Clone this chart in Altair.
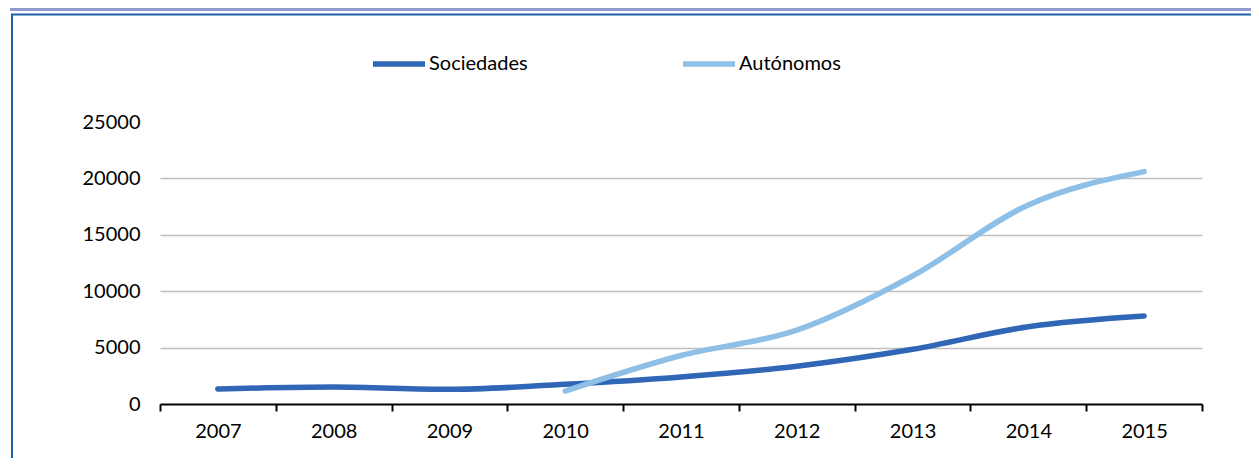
import altair as alt
import pandas as pd

years = ["2007", "2008", "2009", "2010", "2011", "2012", "2013", "2014", "2015"]
sociedades = [1330, 1500, 1300, 1750, 2400, 3350, 4850, 6850, 7800]
autonomos = [None, None, None, 1150, 4300, 6550, 11350, 17650, 20600]
series = ["Sociedades", "Autónomos"]
colors = ["#2F66B5", "#8DBFE7"]
y_ticks = [0, 5000, 10000, 15000, 20000, 25000]

rows = []
for name, vals in zip(series, [sociedades, autonomos]):
    for yr, v in zip(years, vals):
        if v is not None:
            rows.append({"Año": yr, "Serie": name, "Valor": v})
df = pd.DataFrame(rows)

FONT = "Lato"
W, H = 1042, 282
PL, PT = 152, 114
PR, PB = 49, 54

lines = alt.Chart(df).mark_line(strokeWidth=5.5, strokeCap="round", strokeJoin="round",
                                interpolate="monotone").encode(
    x=alt.X("Año:N", sort=years, bandPosition=0.5,
            scale=alt.Scale(type="band", paddingInner=0, paddingOuter=0),
            axis=alt.Axis(title=None, labelAngle=0, domainColor="black", domainWidth=2,
                          tickColor="black", tickWidth=2, tickSize=7, tickBand="extent",
                          labelPadding=10, labelFontSize=20, labelColor="black",
                          labelFont=FONT, grid=False)),
    y=alt.Y("Valor:Q", scale=alt.Scale(domain=[0, 25000], nice=False),
            axis=alt.Axis(title=None, values=y_ticks, format="d", domain=False, ticks=False,
                          labelPadding=20, labelFontSize=20, labelColor="black",
                          labelFont=FONT, gridColor="#BFBFBF", gridWidth=1.5,
                          gridOpacity=alt.ExprRef("datum.value >= 25000 || datum.value == 0 ? 0 : 1"))),
    color=alt.Color("Serie:N", scale=alt.Scale(domain=series, range=colors),
                    legend=alt.Legend(title=None, orient="none", legendX=210, legendY=-87,
                                      direction="horizontal", columns=2, columnPadding=144,
                                      symbolType="stroke", symbolSize=2704, symbolStrokeWidth=5.5,
                                      labelOffset=1, labelFontSize=20, labelFont=FONT,
                                      labelColor="black")),
    order=alt.Order("Serie:N")
)

RIGHT = PL + W + PR  # right edge of drawing, relative to page origin + 8
frame_bar = alt.Chart(pd.DataFrame({"k": [0]})).mark_rect(color="#9198CB").encode(
    x=alt.value(10 - 8 - PL), x2=alt.value(RIGHT - PL),
    y=alt.value(8 - 8 - PT), y2=alt.value(11 - 8 - PT))
frame_top = alt.Chart(pd.DataFrame({"k": [0]})).mark_rule(color="#1F5FA8", strokeWidth=2).encode(
    x=alt.value(11 - 8 - PL), x2=alt.value(RIGHT - PL),
    y=alt.value(14.5 - 8 - PT))
frame_left = alt.Chart(pd.DataFrame({"k": [0]})).mark_rule(color="#1F5FA8", strokeWidth=2).encode(
    x=alt.value(12 - 8 - PL),
    y=alt.value(14.5 - 8 - PT), y2=alt.value(H + PB))

chart = alt.layer(frame_bar, frame_top, frame_left, lines).properties(
    width=W, height=H,
    autosize=alt.AutoSizeParams(type="none"),
    padding={"left": PL, "top": PT, "right": PR, "bottom": PB},
    background="white",
).configure_view(stroke=None)

chart.save("out.html", embed_options={"renderer": "svg", "actions": False})
